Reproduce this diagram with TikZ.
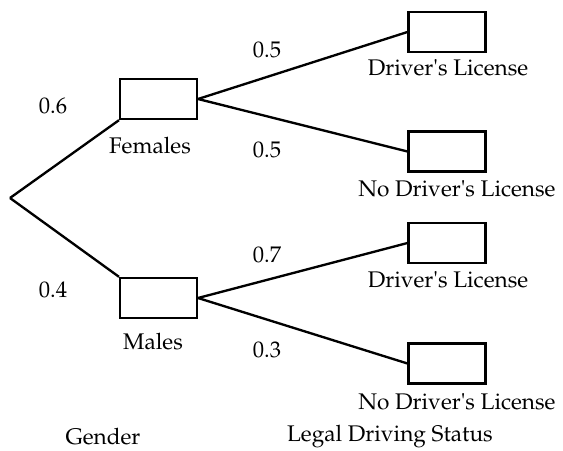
\documentclass[tikz,border=0pt]{standalone}
\usepackage[T1]{fontenc}
\usepackage{mathpazo}
\usepackage{textcomp}
\usetikzlibrary{positioning}

\newcommand\apos{\textquotesingle}

\tikzset{
  box/.style={draw,line width=2pt,minimum width=2.3cm,minimum height=1.2cm,inner sep=0pt},
  branch/.style={line width=2pt},
  lbl/.style={font=\fontsize{19.3}{22}\selectfont,inner sep=1pt}
}

\begin{document}
\begin{tikzpicture}[x=0.03cm,y=-0.03cm]

\useasboundingbox (0,0) rectangle (563,450);

\coordinate (root) at (10,198);

\node[box] (fem) at (158.5,99) {};
\node[box] (mal) at (158.5,298) {};
\node[box] (fd) at (447,32) {};
\node[box] (fn) at (447,151.5) {};
\node[box] (md) at (447,243) {};
\node[box] (mn) at (447,363.5) {};

\draw[branch] (root)--(fem.south west);
\draw[branch] (root)--(mal.north west);
\draw[branch] (fem.east)--(fd.west);
\draw[branch] (fem.east)--(fn.west);
\draw[branch] (mal.east)--(md.west);
\draw[branch] (mal.east)--(mn.west);

% branch labels
\node[lbl] (pf) at (53,106) {0.6};
\node[lbl] (pm) at (53,290) {0.4};
\node[lbl] (pfd) at (267,50) {0.5};
\node[lbl] (pfn) at (267,150) {0.5};
\node[lbl] (pmd) at (267,255) {0.7};
\node[lbl] (pmn) at (267,350) {0.3};

% outcome names
\node[lbl] (tf) at (150,146) {Females};
\node[lbl] (tm) at (153,342) {Males};
\node[lbl] (tfd) at (448,68) {Driver\apos s License};
\node[lbl] (tfn) at (457,189) {No Driver\apos s License};
\node[lbl] (tmd) at (448,280) {Driver\apos s License};
\node[lbl] (tmn) at (457,402) {No Driver\apos s License};

\node[lbl] (hg) at (103,437) {Gender};
\node[lbl] (hs) at (390,437) {Legal Driving Status};

\end{tikzpicture}
\end{document}
